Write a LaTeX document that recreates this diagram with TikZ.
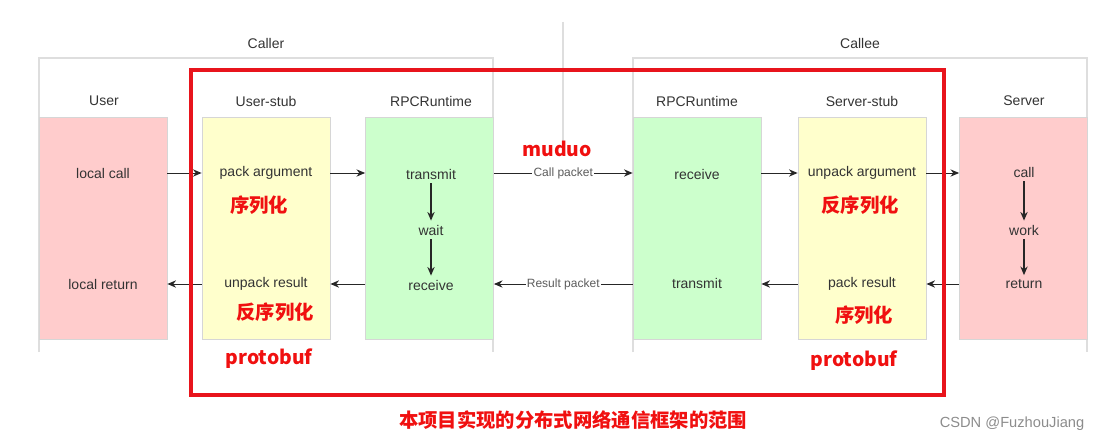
\documentclass[tikz,border=0pt]{standalone}
\usepackage{fontspec}
\setmainfont{Liberation Sans}
\newfontfamily\cjk{Noto Sans CJK SC}
\usetikzlibrary{arrows.meta}
\definecolor{pinkfill}{HTML}{FFCCCC}
\definecolor{yellowfill}{HTML}{FFFFCC}
\definecolor{greenfill}{HTML}{CCFFCC}
\definecolor{boxline}{HTML}{D6D6D6}
\definecolor{frameline}{HTML}{DEDEDE}
\definecolor{labelgray}{HTML}{333333}
\definecolor{scopered}{HTML}{E8141C}
\definecolor{notered}{HTML}{F01010}
\tikzset{
  lane/.style={draw=boxline, line width=0.6pt, minimum width=96pt, minimum height=166.5pt, inner sep=0pt},
  txt/.style={text=labelgray, font=\fontsize{10.5}{12}\selectfont, inner sep=1pt},
  note/.style={text=notered, font=\cjk\bfseries\fontsize{14.5}{16}\selectfont, inner sep=1pt},
  arr/.style={-{Stealth[length=6.5pt,width=5.5pt]}, draw=black!85, line width=0.7pt},
  varr/.style={arr, line width=0.9pt, shorten <=2pt, shorten >=2pt},
}
\begin{document}
\begin{tikzpicture}[x=0.75pt,y=0.75pt,yscale=-1,xscale=1]
    \useasboundingbox (0,0) rectangle (1103,442);

    % Frames
    \draw[frameline, line width=0.8pt] (39,352) -- (39,58) -- (493,58) -- (493,352) ;
    \draw[frameline, line width=0.8pt] (633,352) -- (633,58) -- (1087,58) -- (1087,352) ;
    \draw[frameline, line width=0.8pt] (563,22) -- (563,142) ;
    \draw (266,43) node [txt] (caller) {Caller};
    \draw (860,43) node [txt] (callee) {Callee};

    % Lanes
    \node [lane, fill=pinkfill] (user) at (103,228) {};
    \node [lane, fill=yellowfill] (ustub) at (266,228) {};
    \node [lane, fill=greenfill] (crt) at (429.5,228) {};
    \node [lane, fill=greenfill] (srt) at (697,228) {};
    \node [lane, fill=yellowfill] (sstub) at (862,228) {};
    \node [lane, fill=pinkfill] (server) at (1023.5,228) {};
    \draw (104,101) node [txt] {User};
    \draw (266,101) node [txt] {User-stub};
    \draw (431,101) node [txt] {RPCRuntime};
    \draw (697,101) node [txt] {RPCRuntime};
    \draw (862,101) node [txt] {Server-stub};
    \draw (1024,101) node [txt] {Server};

    % Text Node
    \draw (103,173) node [txt] (lcall) {local call};
    \draw (103,284) node [txt] (lret) {local return};
    \draw (266,173) node [txt] (pack) {pack argument};
    \draw (266,284) node [txt] (unpackr) {unpack result};
    \draw (431,174) node [txt] (ctx) {transmit};
    \draw (431,230) node [txt] (cwait) {wait};
    \draw (431,285) node [txt] (crx) {receive};
    \draw (697,174) node [txt] (srx) {receive};
    \draw (697,283) node [txt] (stx) {transmit};
    \draw (862,173) node [txt] (unpacka) {unpack argument};
    \draw (862,284) node [txt] (packr) {pack result};
    \draw (1024,172) node [txt] (scall) {call};
    \draw (1024,230) node [txt] (swork) {work};
    \draw (1024,284) node [txt] (sret) {return};

    % Notes
    \draw (259,205) node [note] {序列化};
    \draw (275,312) node [note] {反序列化};
    \draw (860,205) node [note] {反序列化};
    \draw (864,315) node [note] {序列化};
    \draw (557,149) node [note] {muduo};
    \draw (269,359) node [note] {protobuf};
    \draw (854,361) node [note] {protobuf};
    \draw (573,420) node [note] {本项目实现的分布式网络通信框架的范围};
    \draw (1012,424) node [text=black!45, font=\fontsize{11}{13}\selectfont] {CSDN @FuzhouJiang};

    % Connection
    \draw[arr] (user.east |- lcall) -- (ustub.west |- lcall) ;
    \draw[arr] (ustub.east |- lcall) -- (crt.west |- lcall) ;
    \draw[arr] (crt.east |- lcall) -- node [fill=white, text=labelgray!80, font=\fontsize{9}{10}\selectfont, inner sep=1pt] {Call packet} (srt.west |- lcall) ;
    \draw[arr] (srt.east |- lcall) -- (sstub.west |- lcall) ;
    \draw[arr] (sstub.east |- lcall) -- (server.west |- lcall) ;
    \draw[arr] (server.west |- lret) -- (sstub.east |- lret) ;
    \draw[arr] (sstub.west |- lret) -- (srt.east |- lret) ;
    \draw[arr] (srt.west |- lret) -- node [fill=white, text=labelgray!80, font=\fontsize{9}{10}\selectfont, inner sep=1pt] {Result packet} (crt.east |- lret) ;
    \draw[arr] (crt.west |- lret) -- (ustub.east |- lret) ;
    \draw[arr] (ustub.west |- lret) -- (user.east |- lret) ;
    \draw[varr] (ctx) -- (cwait) ;
    \draw[varr] (cwait) -- (crx) ;
    \draw[varr] (scall) -- (swork) ;
    \draw[varr] (swork) -- (sret) ;

    % Scope
    \draw[scopered, line width=3.4pt] (191,70) rectangle (944,395) ;

\end{tikzpicture}
\end{document}
